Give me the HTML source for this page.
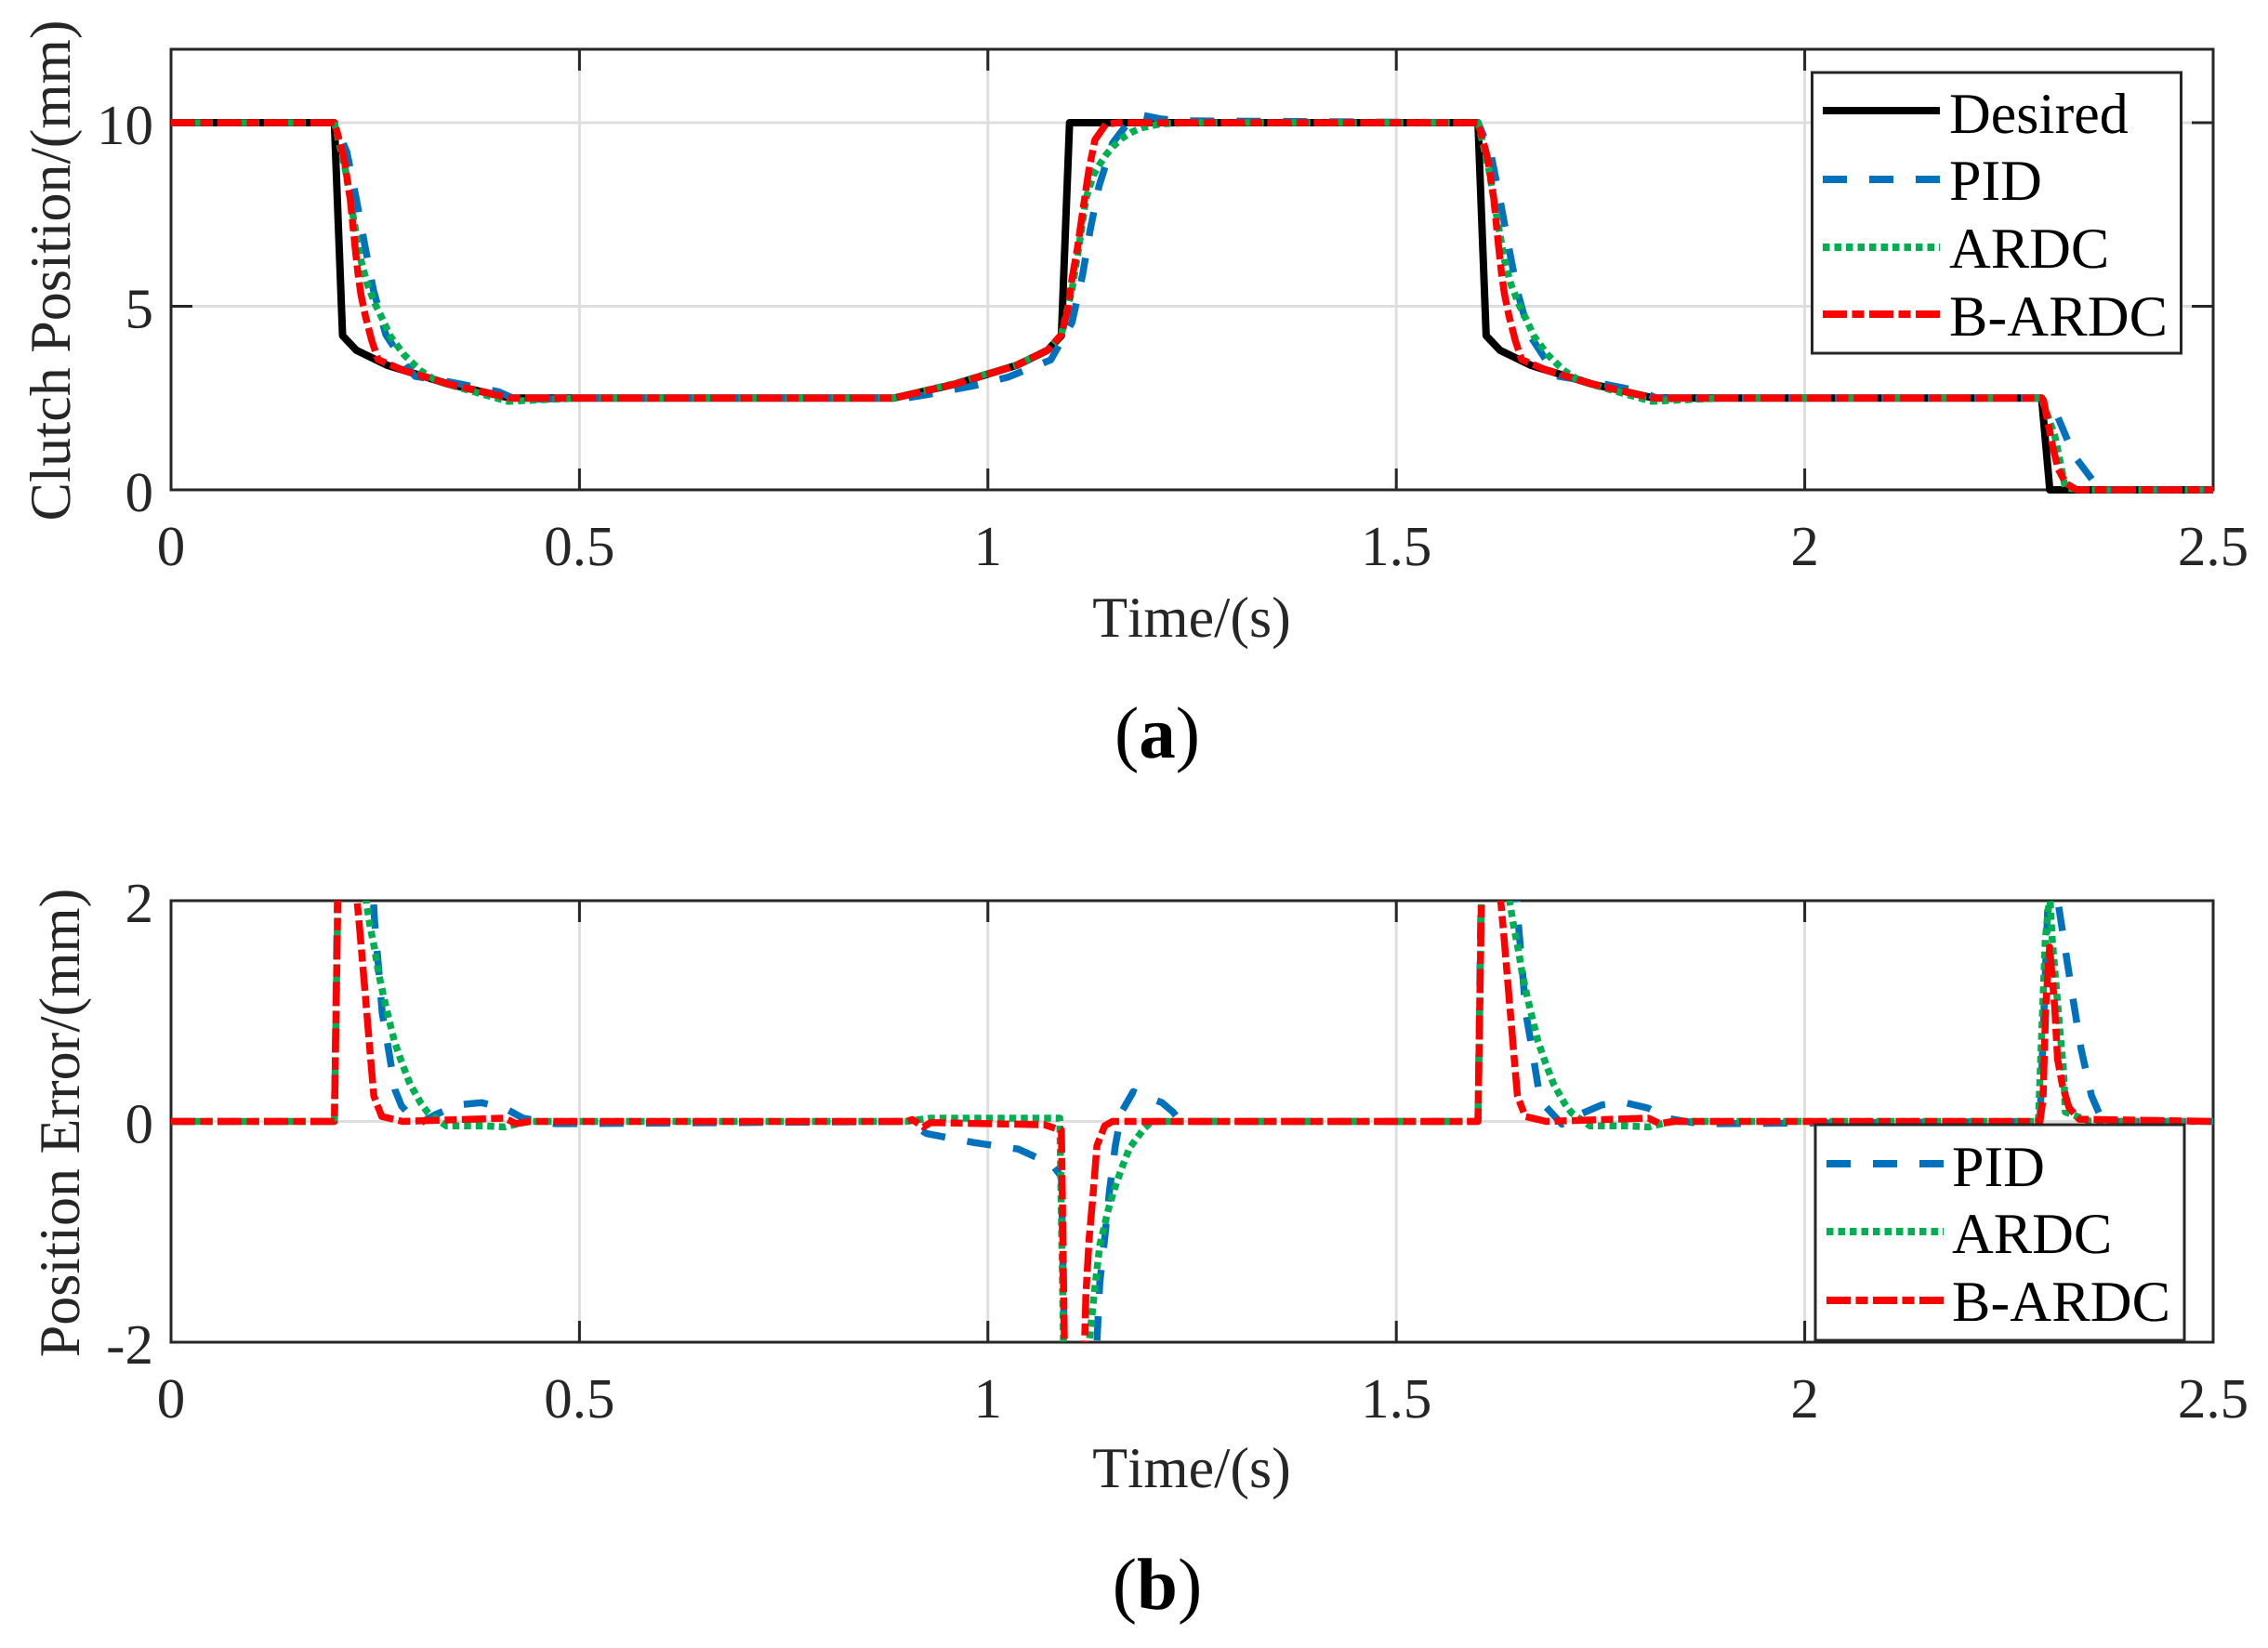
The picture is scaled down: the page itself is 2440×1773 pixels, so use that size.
<!DOCTYPE html>
<html lang="en">
<head>
<meta charset="utf-8">
<title>Clutch position tracking and position error</title>
<style>
html,body{margin:0;padding:0;background:#fff;width:2440px;height:1773px;overflow:hidden;}
svg{display:block;}
text{font-family:"Liberation Serif",serif;font-kerning:none;text-rendering:geometricPrecision;}
</style>
</head>
<body>
<svg id="chart" xmlns="http://www.w3.org/2000/svg" width="2440" height="1773" viewBox="0 0 2440 1773">
  <defs>
    <clipPath id="clip-top"><rect x="184" y="53" width="2197" height="480"/></clipPath>
    <clipPath id="clip-err"><rect x="184" y="969" width="2197" height="475"/></clipPath>
  </defs>
  <rect x="0" y="0" width="2440" height="1773" fill="#ffffff"/>
  <g id="top-grid"></g>
  <g id="err-grid"></g>
  <g id="top-axes"></g>
  <g id="err-axes"></g>
  <g id="top-lines" clip-path="url(#clip-top)"></g>
  <g id="err-lines" clip-path="url(#clip-err)"></g>

  <text transform="translate(75,291) rotate(-90)" text-anchor="middle" font-size="62" fill="#262626">Clutch Position/(mm)</text>
  <text x="1282" y="685" text-anchor="middle" font-size="62" fill="#262626">Time/(s)</text>
  <text x="1245" y="815" text-anchor="middle" font-size="79" fill="#000">(<tspan font-weight="bold">a</tspan>)</text>
  <text transform="translate(85,1208) rotate(-90)" text-anchor="middle" font-size="62" fill="#262626">Position Error/(mm)</text>
  <text x="1282" y="1600" text-anchor="middle" font-size="62" fill="#262626">Time/(s)</text>
  <text x="1245" y="1731" text-anchor="middle" font-size="79" fill="#000">(<tspan font-weight="bold">b</tspan>)</text>

  <g>
    <rect x="1949.5" y="78" width="397" height="302" fill="#fff" stroke="#262626" stroke-width="3"/>
    <g>
      <line x1="1961" x2="2087" y1="119" y2="119" stroke="#000" stroke-width="8"/>
      <text x="2097" y="143" font-size="62" fill="#000">Desired</text>
    </g>
    <g>
      <line x1="1961" x2="2087" y1="193" y2="193" stroke="#0072BD" stroke-width="8" stroke-dasharray="26 24"/>
      <text x="2097" y="215" font-size="62" fill="#000">PID</text>
    </g>
    <g>
      <line x1="1961" x2="2087" y1="266" y2="266" stroke="#00B050" stroke-width="8" stroke-dasharray="7.5 5"/>
      <text x="2097" y="288" font-size="62" fill="#000">ARDC</text>
    </g>
    <g>
      <line x1="1961" x2="2087" y1="338" y2="338" stroke="#FF0000" stroke-width="8" stroke-dasharray="26 5.5 13 5.5"/>
      <text x="2097" y="361" font-size="62" fill="#000" textLength="235" lengthAdjust="spacing">B-ARDC</text>
    </g>
  </g>

  <g>
    <rect x="1953" y="1210" width="397" height="232" fill="#fff" stroke="#262626" stroke-width="3"/>
    <g>
      <line x1="1965" x2="2091" y1="1252" y2="1252" stroke="#0072BD" stroke-width="8" stroke-dasharray="26 24"/>
      <text x="2100" y="1276" font-size="62" fill="#000">PID</text>
    </g>
    <g>
      <line x1="1965" x2="2091" y1="1325" y2="1325" stroke="#00B050" stroke-width="8" stroke-dasharray="7.5 5"/>
      <text x="2100" y="1348" font-size="62" fill="#000">ARDC</text>
    </g>
    <g>
      <line x1="1965" x2="2091" y1="1399" y2="1399" stroke="#FF0000" stroke-width="8" stroke-dasharray="26 5.5 13 5.5"/>
      <text x="2100" y="1421" font-size="62" fill="#000" textLength="235" lengthAdjust="spacing">B-ARDC</text>
    </g>
  </g>
</svg>

<script>
// Tick labels
const xTickValues = [0, 0.5, 1, 1.5, 2, 2.5];
const positionTickValues = [0, 5, 10];
const errorTickValues = [-2, 0, 2];

// Panel (a): clutch position, mm
const desiredTime = [0,0.2,0.21,0.227,0.265,0.34,0.415,0.885,0.96,1.035,1.073,1.09,1.1,1.6,1.61,1.627,1.665,1.74,1.815,2.29,2.3,2.5];
const desiredPosition = [10,10,4.2,3.8,3.39,2.88,2.5,2.5,2.88,3.39,3.8,4.2,10,10,4.2,3.8,3.39,2.88,2.5,2.5,0,0];

const pidTime = [0,0.2,0.2153,0.2267,0.2371,0.2477,0.2629,0.2875,0.299,0.346,0.4013,0.4185,0.45,0.5,0.9,0.925,0.9817,1.0247,1.077,1.103,1.1157,1.125,1.136,1.1525,1.17,1.188,1.212,1.24,1.6,1.6153,1.6267,1.6371,1.6477,1.6629,1.6875,1.699,1.746,1.8013,1.8185,1.85,1.9,2.288,2.3075,2.3295,2.357,2.365,2.5];
const pidPosition = [10,10,9.2,7.94,6.68,5.45,4.23,3.39,3.09,2.92,2.67,2.5,2.47,2.5,2.5,2.59,2.83,3.07,3.54,4.56,5.83,7.05,8.27,9.44,9.95,10.21,10.1,10.05,10,9.2,7.94,6.68,5.45,4.23,3.39,3.09,2.92,2.67,2.5,2.47,2.5,2.5,2.11,0.94,0.13,0,0];

const ardcTime = [0,0.2,0.2136,0.223,0.2325,0.24,0.2497,0.2572,0.2686,0.2857,0.3047,0.3255,0.371,0.4128,0.44,0.5,0.885,0.96,1.035,1.073,1.09,1.103,1.112,1.12,1.129,1.1367,1.1445,1.153,1.1636,1.175,1.188,1.212,1.25,1.6,1.6136,1.623,1.6325,1.64,1.6497,1.6572,1.6686,1.6857,1.7047,1.7255,1.771,1.8128,1.84,1.9,2.29,2.306,2.3135,2.319,2.34,2.5];
const ardcPosition = [10,10,8.7,7.44,6.25,5.62,5.07,4.73,4.18,3.67,3.26,2.96,2.67,2.41,2.44,2.5,2.5,2.9,3.4,3.8,4.23,5.45,6.7,7.93,8.57,8.86,9.12,9.35,9.57,9.73,9.86,9.97,10,10,8.7,7.44,6.25,5.62,5.07,4.73,4.18,3.67,3.26,2.96,2.67,2.41,2.44,2.5,2.5,1.48,0.68,0.05,0,0];

const bardcTime = [0,0.2,0.2037,0.2117,0.2193,0.225,0.2287,0.2325,0.238,0.2458,0.2534,0.2838,0.34,0.415,0.885,0.96,1.035,1.073,1.09,1.0979,1.103,1.1097,1.114,1.1184,1.1235,1.131,1.1445,1.16,1.6,1.6037,1.6117,1.6193,1.625,1.6287,1.6325,1.638,1.6458,1.6534,1.6838,1.74,1.815,2.29,2.2925,2.298,2.3038,2.31,2.3196,2.333,2.5];
const bardcPosition = [10,10,9.72,9.04,7.94,6.68,5.92,5.32,4.73,4.06,3.55,3.26,2.88,2.5,2.5,2.88,3.39,3.8,4.23,4.9,5.75,6.59,7.26,7.93,8.69,9.53,9.96,10,10,9.72,9.04,7.94,6.68,5.92,5.32,4.73,4.06,3.55,3.26,2.88,2.5,2.5,2.43,1.8,1.16,0.58,0.18,0,0];

// Panel (b): position error, mm (the troughs near 1.1 s leave the axis range; they are read only as far as the axis shows)
const pidErrorTime = [0,0.2,0.21,0.2478,0.2492,0.254,0.2585,0.2663,0.2743,0.2822,0.3027,0.3232,0.3516,0.38,0.4086,0.4308,0.47,0.5,0.9,0.925,0.9817,1.037,1.0785,1.09,1.0938,1.1325,1.1335,1.137,1.143,1.1487,1.156,1.1637,1.178,1.2132,1.2264,1.236,1.6,1.61,1.6478,1.6492,1.654,1.6585,1.6663,1.6743,1.6822,1.7027,1.7232,1.7516,1.78,1.8086,1.8308,1.87,1.9,2.288,2.3,2.3075,2.3115,2.3206,2.3295,2.3385,2.351,2.3647,2.5];
const pidError = [0,0,5.5,2,1.81,1.4,0.985,0.65,0.285,0.14,-0.025,0.06,0.15,0.17,0.12,0.03,-0.02,-0.02,0,-0.11,-0.19,-0.25,-0.39,-0.5,-2.1,-2.1,-2,-1.46,-1.06,-0.64,-0.22,0.087,0.27,0.17,0.087,0,0,5.5,2,1.81,1.4,0.985,0.65,0.285,0.14,-0.025,0.06,0.15,0.17,0.12,0.03,-0.02,-0.02,0,2.45,2.1,1.92,1.48,1.06,0.65,0.235,0,0];

const ardcErrorTime = [0,0.2,0.21,0.2393,0.2439,0.2493,0.2539,0.26,0.2663,0.2733,0.2822,0.2925,0.3063,0.3149,0.337,0.38,0.4086,0.437,0.9,0.93,1.088,1.0928,1.123,1.124,1.13,1.137,1.147,1.155,1.164,1.1735,1.1906,1.2,1.6,1.61,1.6393,1.6439,1.6493,1.6539,1.66,1.6663,1.6733,1.6822,1.6925,1.7063,1.7149,1.737,1.78,1.8086,1.837,2.286,2.2945,2.3,2.303,2.3075,2.3125,2.317,2.319,2.35,2.5];
const ardcError = [0,0,4.8,1.97,1.76,1.56,1.35,1.14,0.94,0.73,0.54,0.34,0.16,0.075,-0.04,-0.04,-0.05,0,0,0.03,0.03,-2.1,-2.1,-2,-1.57,-1.12,-0.81,-0.61,-0.42,-0.24,-0.07,0,0,4.8,1.97,1.76,1.56,1.35,1.14,0.94,0.73,0.54,0.34,0.16,0.075,-0.04,-0.04,-0.05,0,0,1.65,2.05,1.65,1.25,0.81,0.45,0.085,0,0];

const bardcErrorTime = [0,0.2,0.21,0.2278,0.2316,0.238,0.2444,0.2483,0.258,0.2836,0.4086,0.4224,0.44,0.9,0.9077,0.921,0.93,1.069,1.09,1.0938,1.1175,1.1184,1.12,1.124,1.129,1.1335,1.143,1.1525,1.6,1.61,1.6278,1.6316,1.638,1.6444,1.6483,1.658,1.6836,1.8086,1.8224,1.84,2.288,2.2917,2.295,2.2998,2.306,2.3095,2.3157,2.3236,2.336,2.5];
const bardcError = [0,0,4.8,2,1.69,1.13,0.565,0.23,0.045,0,0.03,-0.02,0,0,0.017,-0.05,-0.01,-0.03,-0.08,-2.1,-2.1,-2,-1.57,-1.06,-0.64,-0.22,-0.04,0,0,4.8,2,1.69,1.13,0.565,0.23,0.045,0,0.03,-0.02,0,0,0.2,1.04,1.58,1.04,0.565,0.32,0.125,0.02,0];

const SVG_NS = 'http://www.w3.org/2000/svg';
const PLOT_LEFT = 184, PLOT_RIGHT = 2381;
const TOP_PANEL = { top: 53, bottom: 527, min: 0, max: 12 };
const ERR_PANEL = { top: 969, bottom: 1444, min: -2, max: 2 };
const TICK_LEN = 23;

function xScale(t) { return PLOT_LEFT + (t / 2.5) * (PLOT_RIGHT - PLOT_LEFT); }
function yScale(panel, v) { return panel.bottom - (v - panel.min) / (panel.max - panel.min) * (panel.bottom - panel.top); }

function shape(tag, attrs, parent) {
  const el = document.createElementNS(SVG_NS, tag);
  Object.keys(attrs).forEach(function (k) { el.setAttribute(k, attrs[k]); });
  parent.appendChild(el);
  return el;
}

function drawSeries(parent, panel, times, values, style, name) {
  const pts = times.map(function (t, i) { return xScale(t).toFixed(2) + ',' + yScale(panel, values[i]).toFixed(2); }).join(' ');
  const el = shape('polyline', { points: pts, fill: 'none', stroke: style.color, 'stroke-width': style.width, 'stroke-dasharray': style.dash, 'stroke-linejoin': 'round' }, parent);
  
  
}

function drawAxes(gridEl, axesEl, panel, yTicks, prefix) {
  xTickValues.forEach(function (t) {
    const x = xScale(t);
    if (t > 0 && t < 2.5) {
      const g = shape('line', { x1: x, x2: x, y1: panel.top, y2: panel.bottom, stroke: '#dedede', 'stroke-width': 3 }, gridEl);
      
      
      const t1 = shape('line', { x1: x, x2: x, y1: panel.bottom, y2: panel.bottom - TICK_LEN, stroke: '#262626', 'stroke-width': 3 }, axesEl);
      
      
      const t2 = shape('line', { x1: x, x2: x, y1: panel.top, y2: panel.top + TICK_LEN, stroke: '#262626', 'stroke-width': 3 }, axesEl);
      
      
    }
    const lab = shape('text', { x: x, y: panel.bottom + 81, 'text-anchor': 'middle', 'font-size': 61, fill: '#262626' }, axesEl);
    lab.textContent = String(t);
    
    
  });
  yTicks.forEach(function (v) {
    const y = yScale(panel, v);
    const inside = v > panel.min && v < panel.max;
    if (inside) {
      const g = shape('line', { x1: PLOT_LEFT, x2: PLOT_RIGHT, y1: y, y2: y, stroke: '#dedede', 'stroke-width': 3 }, gridEl);
      
      
      const t1 = shape('line', { x1: PLOT_LEFT, x2: PLOT_LEFT + TICK_LEN, y1: y, y2: y, stroke: '#262626', 'stroke-width': 3 }, axesEl);
      
      
      const t2 = shape('line', { x1: PLOT_RIGHT, x2: PLOT_RIGHT - TICK_LEN, y1: y, y2: y, stroke: '#262626', 'stroke-width': 3 }, axesEl);
      
      
    }
    const lab = shape('text', { x: 165, y: y + 23, 'text-anchor': 'end', 'font-size': 61, fill: '#262626' }, axesEl);
    lab.textContent = String(v);
    
    
  });
  const frame = shape('rect', { x: PLOT_LEFT, y: panel.top, width: PLOT_RIGHT - PLOT_LEFT, height: panel.bottom - panel.top, fill: 'none', stroke: '#262626', 'stroke-width': 3 }, axesEl);
  
  
}

const styleDesired = { color: '#000000', width: 8, dash: 'none' };
const stylePid = { color: '#0072BD', width: 7.5, dash: '26 24' };
const styleArdc = { color: '#00B050', width: 7.5, dash: '7.5 5' };
const styleBardc = { color: '#FF0000', width: 7.5, dash: '26 5.5 13 5.5' };

drawAxes(document.getElementById('top-grid'), document.getElementById('top-axes'), TOP_PANEL, positionTickValues, 'position');
drawAxes(document.getElementById('err-grid'), document.getElementById('err-axes'), ERR_PANEL, errorTickValues, 'error');

const topLines = document.getElementById('top-lines');
drawSeries(topLines, TOP_PANEL, desiredTime, desiredPosition, styleDesired, 'desired-position-line');
drawSeries(topLines, TOP_PANEL, pidTime, pidPosition, stylePid, 'pid-position-line');
drawSeries(topLines, TOP_PANEL, ardcTime, ardcPosition, styleArdc, 'ardc-position-line');
drawSeries(topLines, TOP_PANEL, bardcTime, bardcPosition, styleBardc, 'b-ardc-position-line');

const errLines = document.getElementById('err-lines');
drawSeries(errLines, ERR_PANEL, pidErrorTime, pidError, stylePid, 'pid-error-line');
drawSeries(errLines, ERR_PANEL, ardcErrorTime, ardcError, styleArdc, 'ardc-error-line');
drawSeries(errLines, ERR_PANEL, bardcErrorTime, bardcError, styleBardc, 'b-ardc-error-line');
</script>
</body>
</html>
